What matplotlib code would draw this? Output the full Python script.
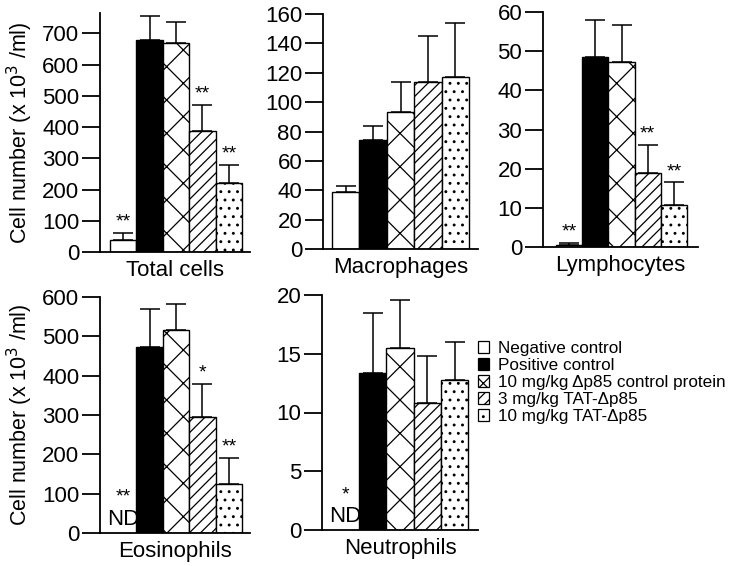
import numpy as np
import matplotlib
matplotlib.use("Agg")
import matplotlib.pyplot as plt
from matplotlib.patches import Patch

plt.rcParams['font.family'] = ['Liberation Sans', 'DejaVu Sans']
plt.rcParams['hatch.linewidth'] = 0.9

groups = ["Negative control", "Positive control", "10 mg/kg \u0394p85 control protein",
          "3 mg/kg TAT-\u0394p85", "10 mg/kg TAT-\u0394p85"]
facecolors = ["white", "black", "white", "white", "white"]
hatches = [None, None, "x", "///", ".."]

# mean and mean+SE (top of error bar)
total_mean = [38, 680, 670, 388, 220]
total_top = [60, 755, 735, 472, 280]
total_sig = ["**", "", "", "**", "**"]

macro_mean = [39, 74, 93, 114, 117]
macro_top = [43, 84, 114, 145, 154]
macro_sig = ["", "", "", "", ""]

lymph_mean = [0.5, 48.5, 47.2, 19, 10.8]
lymph_top = [1.1, 58, 56.7, 26, 16.5]
lymph_sig = ["**", "", "", "**", "**"]

eos_mean = [0, 472, 517, 295, 125]
eos_top = [0, 570, 582, 378, 190]
eos_sig = ["**", "", "", "*", "**"]

neut_mean = [0, 13.4, 15.5, 10.8, 12.8]
neut_top = [0, 18.5, 19.6, 14.8, 16.0]
neut_sig = ["*", "", "", "", ""]

W, H = 729, 566
fig = plt.figure(figsize=(W / 100, H / 100), dpi=100)


def make_ax(left, right, base, top_px, ylim_top, ticks):
    ax = fig.add_axes([left / W, 1 - base / H, (right - left) / W, (base - top_px) / H])
    ax.set_ylim(0, ylim_top)
    ax.set_yticks(ticks)
    ax.spines['top'].set_visible(False)
    ax.spines['right'].set_visible(False)
    ax.spines['left'].set_linewidth(1.3)
    ax.spines['bottom'].set_linewidth(1.3)
    ax.tick_params(axis='y', length=13, width=1.3, labelsize=16, pad=2)
    ax.tick_params(axis='x', length=0, labelbottom=False)
    return ax


def draw(ax, mean, top, sig, xlim, xlabel, nd=None, ymax=1):
    x = np.arange(len(mean))
    for i in x:
        if nd is not None and i == 0:
            continue
        ax.bar(i, mean[i], width=1.0, color=facecolors[i], edgecolor="black",
               linewidth=1.0, hatch=hatches[i], zorder=2)
        err = top[i] - mean[i]
        ax.errorbar(i, mean[i], yerr=[[0], [err]], fmt='none', ecolor='black',
                    elinewidth=1.1, capsize=7, capthick=1.1, zorder=1)
    for i, s in enumerate(sig):
        if s:
            if nd is not None and i == 0:
                ax.text(i, nd[0], s, ha='center', va='bottom', fontsize=14)
            else:
                ax.text(i, top[i] + ymax * 0.01, s, ha='center', va='bottom', fontsize=14)
    if nd is not None:
        ax.text(0, nd[1], "ND", ha='center', va='bottom', fontsize=16)
    ax.set_xlim(*xlim)
    ax.set_xlabel(xlabel, fontsize=16, labelpad=6)


ax1 = make_ax(100, 250, 252, 13, 765, [0, 100, 200, 300, 400, 500, 600, 700])
draw(ax1, total_mean, total_top, total_sig, (-0.88, 4.8), "Total cells", ymax=765)
ax1.set_ylabel("Cell number (x 10$^3$ /ml)", fontsize=15.5, labelpad=5)

ax2 = make_ax(323, 478, 249, 14, 160, [0, 20, 40, 60, 80, 100, 120, 140, 160])
draw(ax2, macro_mean, macro_top, macro_sig, (-0.83, 4.83), "Macrophages", ymax=160)

ax3 = make_ax(543, 698, 247, 12, 60, [0, 10, 20, 30, 40, 50, 60])
draw(ax3, lymph_mean, lymph_top, lymph_sig, (-1.0, 4.92), "Lymphocytes", ymax=60)

ax4 = make_ax(100, 250, 533, 297, 600, [0, 100, 200, 300, 400, 500, 600])
draw(ax4, eos_mean, eos_top, eos_sig, (-0.88, 4.8), "Eosinophils", nd=(70, 8), ymax=600)
ax4.set_ylabel("Cell number (x 10$^3$ /ml)", fontsize=15.5, labelpad=5)

ax5 = make_ax(322, 478, 530, 295, 20, [0, 5, 10, 15, 20])
draw(ax5, neut_mean, neut_top, neut_sig, (-0.85, 4.85), "Neutrophils", nd=(2.3, 0.25), ymax=20)

handles = [Patch(facecolor=facecolors[i], edgecolor='black', hatch=hatches[i], linewidth=0.9)
           for i in range(len(groups))]
fig.legend(handles, groups, loc='upper left', bbox_to_anchor=(478 / W, 1 - 341 / H),
           frameon=False, fontsize=12.3, handlelength=0.65, handleheight=0.65,
           handletextpad=0.55, labelspacing=0.12, borderpad=0, borderaxespad=0)

fig.savefig("out.png", dpi=100)
